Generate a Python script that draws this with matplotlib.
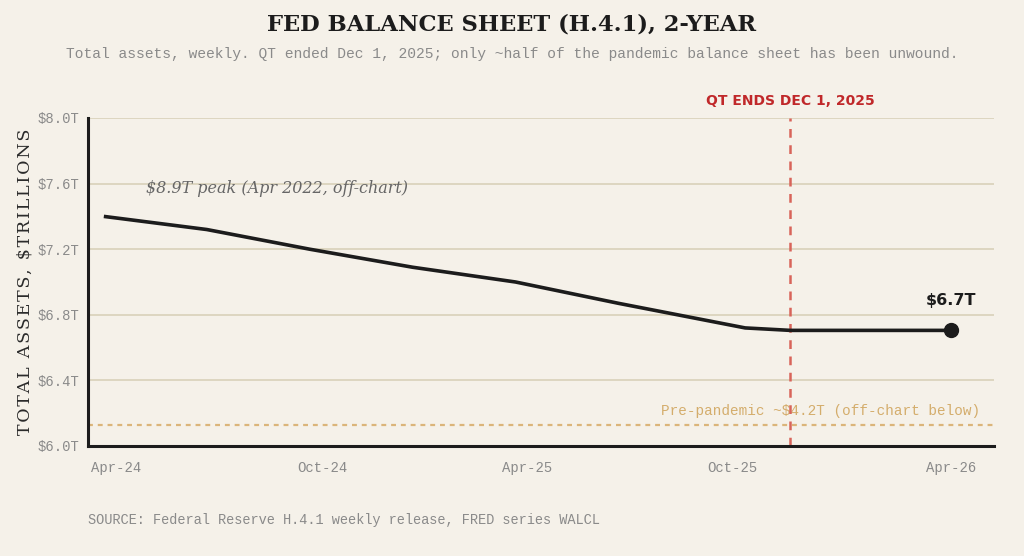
import numpy as np
import pandas as pd
import matplotlib.pyplot as plt
import matplotlib.dates as mdates

# --- data ---
dates = pd.to_datetime(['2024-04-03', '2024-07-03', '2024-10-02', '2025-01-01',
                        '2025-04-02', '2025-07-02', '2025-10-22', '2025-12-01',
                        '2026-04-22'])
assets = [7.40, 7.32, 7.20, 7.09, 7.00, 6.87, 6.72, 6.705, 6.705]

tick_dates = pd.to_datetime(['2024-04-14', '2024-10-13', '2025-04-12',
                             '2025-10-11', '2026-04-22'])
tick_labels = ['Apr-24', 'Oct-24', 'Apr-25', 'Oct-25', 'Apr-26']

y_ticks = [6.0, 6.4, 6.8, 7.2, 7.6, 8.0]
qt_end = pd.Timestamp('2025-12-01')
pre_pandemic_marker = 6.13

BG = '#f5f1e9'
GRID = '#d9d1b9'
MONO = 'Liberation Mono'
SERIF = 'DejaVu Serif'

fig = plt.figure(figsize=(10.24, 5.56), dpi=100, facecolor=BG)
ax = fig.add_axes([88/1024, 1-446/556, (994-88)/1024, (446-118)/556])
ax.set_facecolor(BG)

ax.set_xlim(pd.Timestamp('2024-03-20'), pd.Timestamp('2026-05-30'))
ax.set_ylim(6.0, 8.0)

for y in y_ticks:
    ax.axhline(y, color=GRID, lw=1.2, zorder=1)

# pre-pandemic reference
ax.axhline(pre_pandemic_marker, color='#dbb57a', lw=1.6, ls=(0, (2.2, 2.2)), zorder=2)
ax.text(0.985, pre_pandemic_marker + 0.04, 'Pre-pandemic ~$4.2T (off-chart below)',
        transform=ax.get_yaxis_transform(), ha='right', va='bottom',
        fontsize=10.4, family=MONO, color='#d4ad6c')

# QT end marker
ax.axvline(qt_end, color='#d8645a', lw=1.8, ls=(0, (3.5, 3)), zorder=3)
ax.text(qt_end, 1.03, 'QT ENDS DEC 1, 2025', transform=ax.get_xaxis_transform(),
        ha='center', va='bottom', fontsize=10, fontweight='bold',
        family='DejaVu Sans', color='#c0282a')

# main line
ax.plot(dates, assets, color='#1c1c1c', lw=2.6, zorder=4, solid_capstyle='butt')
ax.plot(dates[-1:], assets[-1:], 'o', color='#1c1c1c', ms=10, zorder=5)
ax.annotate('$6.7T', (dates[-1], assets[-1]), xytext=(0, 16), textcoords='offset points',
            ha='center', va='bottom', fontsize=11.5, fontweight='bold',
            family='DejaVu Sans', color='#1c1c1c')

ax.text(pd.Timestamp('2024-05-10'), 7.52, '$8.9T peak (Apr 2022, off-chart)',
        fontsize=11.5, style='italic', family=SERIF, color='#666666',
        ha='left', va='bottom')

ax.set_xticks(tick_dates)
ax.set_xticklabels(tick_labels)
ax.set_yticks(y_ticks)
ax.set_yticklabels([f'${v:.1f}T' for v in y_ticks])
ax.tick_params(length=0, labelsize=10, labelcolor='#8a8a8a')
for lab in ax.get_xticklabels() + ax.get_yticklabels():
    lab.set_family(MONO)
ax.tick_params(axis='x', pad=11)
ax.tick_params(axis='y', pad=6)

for s in ['top', 'right']:
    ax.spines[s].set_visible(False)
for s in ['left', 'bottom']:
    ax.spines[s].set_linewidth(2.2)
    ax.spines[s].set_color('#1c1c1c')
    ax.spines[s].set_zorder(6)

# letter-spaced axis title
ylab = '\u200a'.join('TOTAL ASSETS, $TRILLIONS')
ax.set_ylabel(ylab, fontsize=12.6, family=SERIF, color='#2a2a2a', labelpad=3)

fig.text(0.5, 1-24/556, 'FED BALANCE SHEET (H.4.1), 2-YEAR', ha='center', va='center',
         fontsize=16.3, fontweight='bold', family=SERIF, color='#1c1c1c')
fig.text(0.5, 1-54/556, 'Total assets, weekly. QT ended Dec 1, 2025; only ~half of the '
         'pandemic balance sheet has been unwound.', ha='center', va='center',
         fontsize=10.5, family=MONO, color='#8a8a8a')
fig.text(88/1024, 1-520/556, 'SOURCE: Federal Reserve H.4.1 weekly release, FRED series WALCL',
         ha='left', va='center', fontsize=9.85, family=MONO, color='#8a8a8a')

fig.savefig('out.png', dpi=100, facecolor=BG)
